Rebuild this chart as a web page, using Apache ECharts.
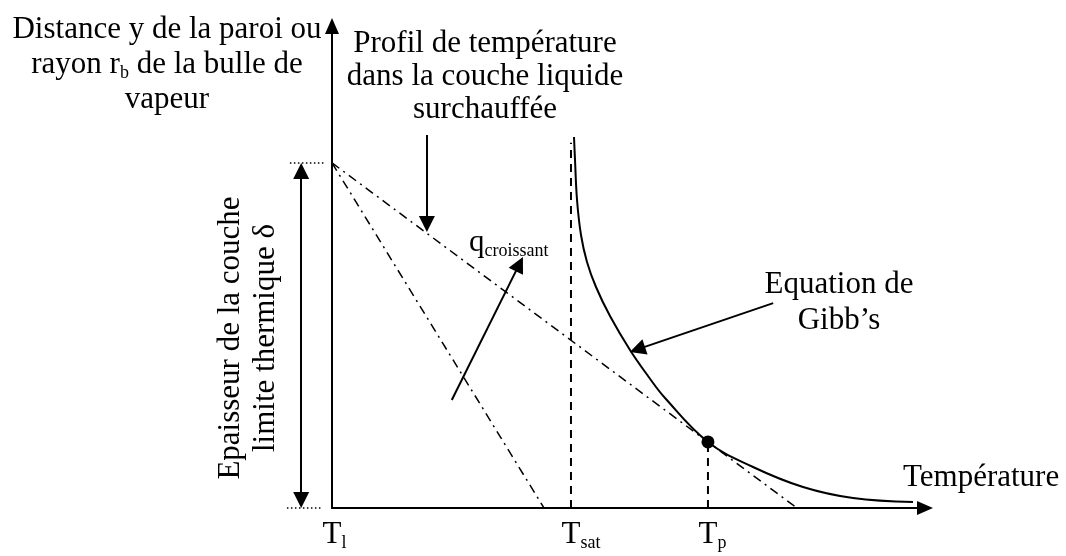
<!DOCTYPE html>
<html>
<head>
<meta charset="utf-8">
<script src="https://cdn.jsdelivr.net/npm/echarts@6/dist/echarts.min.js"></script>
<style>
html,body{margin:0;padding:0;background:#fff;}
#c{width:1066px;height:556px;}
</style>
</head>
<body>
<div id="c"></div>
<script>
// ---- data (abstract temperature units on x, distance units on y) ----
const deltaY = 71.6;                       // boundary layer thickness
const tickValues = [0, 40.3, 63.4];        // T_l, T_sat, T_p
const tickSubs = ['l', 'sat', 'p'];
const shallowProfile = [[0, 71.6], [78.4, 0]];
const steepProfile = [[0, 71.6], [35.75, 0]];
const gibbsCurve = [
  [40.81, 76.97], [40.98, 72.2], [41.32, 63.9], [41.99, 56.64], [43.0, 51.04],
  [44.52, 45.85], [46.88, 39.83], [50.25, 32.78], [53.29, 27.39], [56.16, 22.82],
  [63.41, 13.69], [71.0, 8.51], [79.43, 4.36], [87.86, 2.07], [97.98, 1.24]
];
const tangentPoint = [[63.4, 13.7]];
const tsatLine = [[40.3, 0], [40.3, 75.8]];
const tpLine = [[63.4, 0], [63.4, 13.7]];
const profilArrow = [[16.0, 77.4], [16.0, 58.9]];
const qArrow = [[20.2, 22.4], [31.6, 50.6]];
const gibbsArrow = [[74.4, 42.5], [51.5, 32.9]];
const deltaArrow = [[-5.2, 69.9], [-5.2, 1.66]];
const dottedTop = [[-7.1, 71.6], [-1.35, 71.6]];
const dottedBottom = [[-7.6, 0], [-1.7, 0]];

const labelYAxis = 'Distance y de la paroi ou\nrayon r{s|b} de la bulle de\nvapeur';
const labelProfil = 'Profil de température\ndans la couche liquide\nsurchauffée';
const labelDelta = 'Epaisseur de la couche\nlimite thermique δ';
const labelGibbs = 'Equation de\nGibb’s';
const labelQ = '{q|q}{s|croissant}';
const labelX = 'Température';

const FONT = '"Liberation Serif", "Times New Roman", serif';
const chart = echarts.init(document.getElementById('c'), null, {renderer: 'canvas'});

const black = '#000';
function txt(x, y, text, align, vAlign, extra) {
  return {
    type: 'text', x: x, y: y, silent: true,
    style: Object.assign({
      text: text, fontFamily: FONT, fontSize: 31, lineHeight: 35,
      fill: black, align: align, verticalAlign: vAlign,
      rich: {
        s: {fontFamily: FONT, fontSize: 18, lineHeight: 17, verticalAlign: 'bottom', fill: black},
        q: {fontFamily: FONT, fontSize: 31, lineHeight: 35, fill: black}
      }
    }, extra || {})
  };
}

const option = {
  backgroundColor: '#fff',
  animation: false,
  grid: {left: 332, right: 141, top: 26, bottom: 48, containLabel: false, outerBoundsMode: 'none'},
  xAxis: {
    type: 'value', min: 0, max: 100,
    axisLine: {show: true, onZero: false, symbol: ['none', 'triangle'], symbolSize: [14, 16],
      lineStyle: {color: black, width: 2}},
    axisTick: {show: false},
    splitLine: {show: false},
    axisLabel: {
      show: true, customValues: tickValues, margin: 10, hideOverlap: false,
      formatter: function (v) {
        const i = tickValues.indexOf(v);
        const s = tickSubs[i >= 0 ? i : 0];
        return '{h|' + s + '}{t|T}{s|' + s + '}';
      },
      rich: {
        t: {fontFamily: FONT, fontSize: 31, lineHeight: 34, color: black},
        s: {fontFamily: FONT, fontSize: 18, lineHeight: 15, verticalAlign: 'bottom', color: black},
        h: {fontFamily: FONT, fontSize: 18, lineHeight: 15, verticalAlign: 'bottom', color: 'rgba(0,0,0,0)'}
      }
    }
  },
  yAxis: {
    type: 'value', min: 0, max: 100,
    axisLine: {show: true, onZero: false, symbol: ['none', 'triangle'], symbolSize: [14, 16],
      lineStyle: {color: black, width: 2}},
    axisTick: {show: false},
    splitLine: {show: false},
    axisLabel: {show: false}
  },
  series: [
    {type: 'line', data: shallowProfile, showSymbol: false, silent: true,
      lineStyle: {color: black, width: 1.5, type: [9, 5, 2, 5]}},
    {type: 'line', data: steepProfile, showSymbol: false, silent: true,
      lineStyle: {color: black, width: 1.5, type: [9, 5, 2, 5]}},
    {type: 'line', data: tsatLine, showSymbol: false, silent: true,
      lineStyle: {color: black, width: 2, type: [8, 6]}},
    {type: 'line', data: tpLine, showSymbol: false, silent: true,
      lineStyle: {color: black, width: 2, type: [8, 6]}},
    {type: 'line', data: gibbsCurve, smooth: 0.4, showSymbol: false, silent: true,
      lineStyle: {color: black, width: 2}},
    {type: 'scatter', data: tangentPoint, symbolSize: 13, silent: true, z: 5,
      itemStyle: {color: black, opacity: 1}},
    {type: 'lines', coordinateSystem: 'cartesian2d', clip: false, silent: true,
      symbol: ['none', 'triangle'], symbolSize: 16,
      lineStyle: {color: black, width: 2, opacity: 1, curveness: 0},
      data: [{coords: profilArrow}, {coords: qArrow}, {coords: gibbsArrow}]},
    {type: 'lines', coordinateSystem: 'cartesian2d', clip: false, silent: true,
      symbol: ['triangle', 'triangle'], symbolSize: 16,
      lineStyle: {color: black, width: 2, opacity: 1, curveness: 0},
      data: [{coords: deltaArrow}]},
    {type: 'lines', coordinateSystem: 'cartesian2d', clip: false, silent: true,
      symbol: ['none', 'none'],
      lineStyle: {color: black, width: 1.5, opacity: 1, type: [1.5, 2.5]},
      data: [{coords: dottedTop}, {coords: dottedBottom}]}
  ],
  graphic: [
    txt(167, 12, labelYAxis, 'center', 'top'),
    txt(485, 27, labelProfil, 'center', 'top', {lineHeight: 33}),
    Object.assign(txt(0, 0, labelDelta, 'center', 'middle'), {x: 248, y: 338, rotation: Math.PI / 2}),
    txt(839, 267, labelGibbs, 'center', 'top', {lineHeight: 36}),
    txt(469, 243, labelQ, 'left', 'middle'),
    txt(903, 478, labelX, 'left', 'middle')
  ]
};
chart.setOption(option);
</script>
</body>
</html>
